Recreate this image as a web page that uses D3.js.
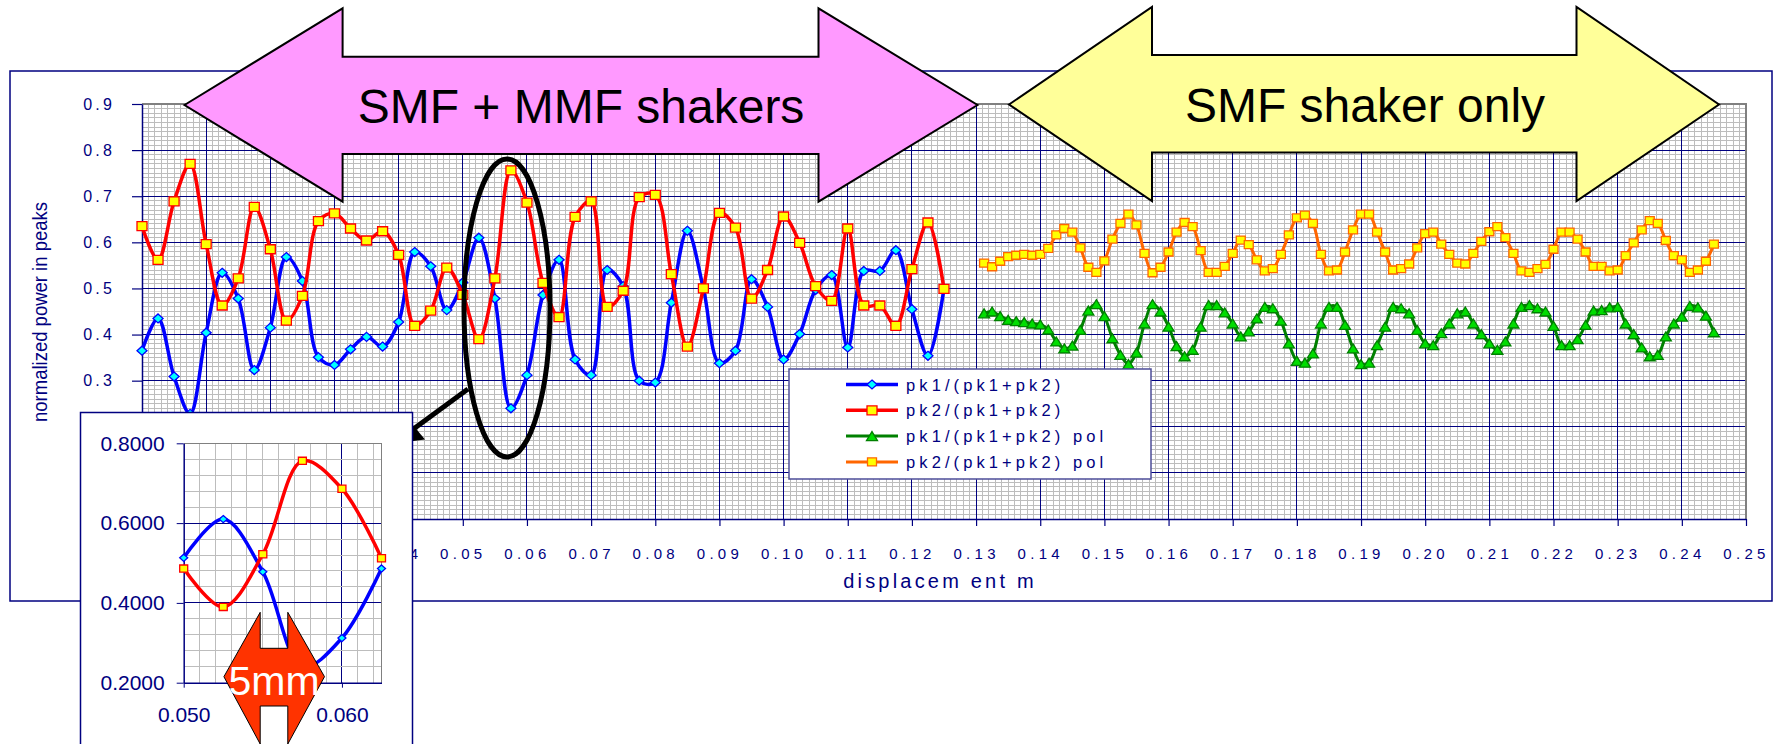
<!DOCTYPE html>
<html>
<head>
<meta charset="utf-8">
<script src="https://cdn.jsdelivr.net/npm/d3@7"></script>
<style>
  body { margin: 0; background: #fff; }
  svg { display: block; }
  .narrow { font-family: "Liberation Sans", Arial, sans-serif; fill: #000080; }
  .plain { font-family: "Liberation Sans", Arial, sans-serif; }
</style>
</head>
<body>
<svg width="1774" height="744"></svg>
<script>
var svg = d3.select("svg");
var navy = "#000080";

// ---- data ----
// displacement in mm, first run (both shakers), 2.5 mm steps
var dispMm = [0, 2.5, 5, 7.5, 10, 12.5, 15, 17.5, 20, 22.5, 25, 27.5, 30, 32.5, 35, 37.5, 40, 42.5, 45, 47.5,
  50, 52.5, 55, 57.5, 60, 62.5, 65, 67.5, 70, 72.5, 75, 77.5, 80, 82.5, 85, 87.5, 90, 92.5, 95, 97.5,
  100, 102.5, 105, 107.5, 110, 112.5, 115, 117.5, 120, 122.5, 125];
var pk1 = [0.365, 0.435, 0.309, 0.228, 0.404, 0.534, 0.478, 0.323, 0.415, 0.568, 0.516, 0.351, 0.334, 0.368, 0.395,
  0.374, 0.427, 0.579, 0.548, 0.453, 0.513, 0.610, 0.478, 0.240, 0.312, 0.486, 0.562, 0.346, 0.312, 0.540,
  0.505, 0.300, 0.296, 0.469, 0.625, 0.500, 0.338, 0.365, 0.520, 0.460, 0.346, 0.401, 0.497, 0.529, 0.372,
  0.538, 0.538, 0.583, 0.455, 0.354, 0.500];
var pk2 = [0.635, 0.562, 0.689, 0.770, 0.596, 0.463, 0.522, 0.677, 0.585, 0.430, 0.484, 0.646, 0.663, 0.630, 0.604,
  0.624, 0.573, 0.419, 0.452, 0.545, 0.486, 0.390, 0.522, 0.756, 0.686, 0.512, 0.438, 0.655, 0.689, 0.460,
  0.495, 0.698, 0.703, 0.531, 0.374, 0.500, 0.664, 0.632, 0.478, 0.540, 0.656, 0.599, 0.505, 0.473, 0.630,
  0.463, 0.463, 0.419, 0.542, 0.643, 0.499];

// second run (SMF shaker only), 1.25 mm steps
var dispPolMm = [131.25, 132.5, 133.75, 135, 136.25, 137.5, 138.75, 140, 141.25, 142.5, 143.75, 145, 146.25, 147.5,
  148.75, 150, 151.25, 152.5, 153.75, 155, 156.25, 157.5, 158.75, 160, 161.25, 162.5, 163.75, 165, 166.25,
  167.5, 168.75, 170, 171.25, 172.5, 173.75, 175, 176.25, 177.5, 178.75, 180, 181.25, 182.5, 183.75, 185,
  186.25, 187.5, 188.75, 190, 191.25, 192.5, 193.75, 195, 196.25, 197.5, 198.75, 200, 201.25, 202.5, 203.75,
  205, 206.25, 207.5, 208.75, 210, 211.25, 212.5, 213.75, 215, 216.25, 217.5, 218.75, 220, 221.25, 222.5,
  223.75, 225, 226.25, 227.5, 228.75, 230, 231.25, 232.5, 233.75, 235, 236.25, 237.5, 238.75, 240, 241.25,
  242.5, 243.75, 245];
var pk1Pol = [0.446, 0.450, 0.440, 0.432, 0.429, 0.427, 0.424, 0.422, 0.411, 0.385, 0.370, 0.376, 0.410, 0.452, 0.466,
  0.440, 0.392, 0.356, 0.336, 0.361, 0.424, 0.466, 0.450, 0.417, 0.375, 0.353, 0.367, 0.417, 0.464, 0.464,
  0.448, 0.424, 0.396, 0.407, 0.435, 0.460, 0.457, 0.430, 0.381, 0.343, 0.339, 0.359, 0.424, 0.460, 0.460,
  0.421, 0.370, 0.336, 0.339, 0.377, 0.417, 0.460, 0.457, 0.446, 0.410, 0.381, 0.377, 0.403, 0.424, 0.446,
  0.450, 0.424, 0.401, 0.381, 0.367, 0.385, 0.424, 0.460, 0.464, 0.457, 0.450, 0.419, 0.377, 0.377, 0.390,
  0.421, 0.452, 0.453, 0.459, 0.460, 0.424, 0.401, 0.372, 0.353, 0.356, 0.396, 0.424, 0.439, 0.462, 0.459,
  0.441, 0.405];
var pk2Pol = [0.555, 0.547, 0.559, 0.569, 0.572, 0.574, 0.572, 0.574, 0.587, 0.616, 0.630, 0.622, 0.588, 0.546, 0.535,
  0.560, 0.607, 0.641, 0.661, 0.638, 0.576, 0.534, 0.546, 0.579, 0.622, 0.643, 0.634, 0.582, 0.535, 0.535,
  0.548, 0.576, 0.605, 0.595, 0.562, 0.538, 0.543, 0.574, 0.616, 0.653, 0.659, 0.641, 0.574, 0.538, 0.540,
  0.579, 0.627, 0.661, 0.661, 0.622, 0.579, 0.540, 0.543, 0.553, 0.588, 0.619, 0.622, 0.596, 0.574, 0.555,
  0.553, 0.576, 0.602, 0.623, 0.634, 0.610, 0.576, 0.538, 0.535, 0.543, 0.552, 0.585, 0.622, 0.622, 0.607,
  0.579, 0.548, 0.548, 0.538, 0.540, 0.571, 0.599, 0.627, 0.647, 0.641, 0.604, 0.571, 0.562, 0.535, 0.540,
  0.559, 0.596];

var seriesNames = ["pk1/(pk1+pk2)", "pk2/(pk1+pk2)", "pk1/(pk1+pk2) pol", "pk2/(pk1+pk2) pol"];
// tick positions; the labels under the inset are not shown in the original
var xTickVals = [0, 0.01, 0.02, 0.03, 0.04, 0.05, 0.06, 0.07, 0.08, 0.09, 0.10, 0.11, 0.12, 0.13,
  0.14, 0.15, 0.16, 0.17, 0.18, 0.19, 0.20, 0.21, 0.22, 0.23, 0.24, 0.25];
var xLabelVals = [0.04, 0.05, 0.06, 0.07, 0.08, 0.09, 0.10, 0.11, 0.12, 0.13,
  0.14, 0.15, 0.16, 0.17, 0.18, 0.19, 0.20, 0.21, 0.22, 0.23, 0.24, 0.25];
var yTickVals = [0, 0.1, 0.2, 0.3, 0.4, 0.5, 0.6, 0.7, 0.8, 0.9];
var yLabelVals = [0.3, 0.4, 0.5, 0.6, 0.7, 0.8, 0.9];
var insetXTicks = [0.050, 0.060];
var insetYTicks = [0.2, 0.4, 0.6, 0.8];

// ---- styles ----
var styles = [
  { line: "#0000ff", width: 3.5, shape: "diamond", w: 10, h: 9, fill: "#00ffff", stroke: "#0000ff" },
  { line: "#ff0000", width: 3.5, shape: "square", w: 10, h: 9, fill: "#ffff00", stroke: "#ff0000" },
  { line: "#008000", width: 3, shape: "triangle", w: 11, h: 9, fill: "#00dd00", stroke: "#008000" },
  { line: "#ff6600", width: 3, shape: "square", w: 9, h: 8, fill: "#ffff00", stroke: "#ff6600" }
];

function markerPath(s, w, h) {
  if (s === "diamond") return "M0," + (-h / 2) + "L" + (w / 2) + ",0L0," + (h / 2) + "L" + (-w / 2) + ",0Z";
  if (s === "triangle") return "M0," + (-h / 2) + "L" + (w / 2) + "," + (h / 2) + "L" + (-w / 2) + "," + (h / 2) + "Z";
  return "M" + (-w / 2) + "," + (-h / 2) + "h" + w + "v" + h + "h" + (-w) + "Z";
}

function drawSeries(g, pts, sx, sy, st, scale) {
  var line = d3.line()
    .x(function (d) { return sx(d.x); })
    .y(function (d) { return sy(d.y); })
    .curve(d3.curveCatmullRom.alpha(0.5));
  g.append("path")
    .datum(pts)
    .attr("fill", "none")
    .attr("stroke", st.line)
    .attr("stroke-width", st.width)
    .attr("stroke-linejoin", "round")
    .attr("d", line);
  g.selectAll(null)
    .data(pts)
    .enter().append("path")
    .attr("transform", function (d) { return "translate(" + sx(d.x) + "," + sy(d.y) + ")"; })
    .attr("d", markerPath(st.shape, st.w * scale, st.h * scale))
    .attr("fill", st.fill)
    .attr("stroke", st.stroke)
    .attr("stroke-width", 1.3);
}

function zip(xsMm, ys) {
  return ys.map(function (v, i) { return { x: xsMm[i] / 1000, y: v }; });
}

var series = [zip(dispMm, pk1), zip(dispMm, pk2), zip(dispPolMm, pk1Pol), zip(dispPolMm, pk2Pol)];

// ---- main chart ----
var x = d3.scaleLinear().domain([0, 0.25]).range([142, 1746]);
var y = d3.scaleLinear().domain([0, 0.9]).range([519, 104]);

svg.append("rect")
  .attr("x", 10).attr("y", 71).attr("width", 1762).attr("height", 530)
  .attr("fill", "#fff").attr("stroke", navy).attr("stroke-width", 1.5);

var grid = svg.append("g").attr("shape-rendering", "crispEdges");
grid.selectAll(".mx").data(d3.range(1, 250)).enter().append("line")
  .attr("x1", function (d) { return x(d / 1000); }).attr("x2", function (d) { return x(d / 1000); })
  .attr("y1", y(0.9)).attr("y2", y(0))
  .attr("stroke", "#bdbdbd");
grid.selectAll(".my").data(d3.range(1, 90)).enter().append("line")
  .attr("y1", function (d) { return y(d / 100); }).attr("y2", function (d) { return y(d / 100); })
  .attr("x1", x(0)).attr("x2", x(0.25))
  .attr("stroke", "#bdbdbd");
grid.selectAll(".gx").data(xTickVals.slice(1, -1)).enter().append("line")
  .attr("x1", function (d) { return x(d); }).attr("x2", function (d) { return x(d); })
  .attr("y1", y(0.9)).attr("y2", y(0))
  .attr("stroke", navy);
grid.selectAll(".gy").data(yTickVals.slice(1, -1)).enter().append("line")
  .attr("y1", function (d) { return y(d); }).attr("y2", function (d) { return y(d); })
  .attr("x1", x(0)).attr("x2", x(0.25))
  .attr("stroke", navy);
grid.append("path")
  .attr("d", "M" + x(0) + "," + y(0.9) + "H" + x(0.25) + "V" + y(0))
  .attr("fill", "none").attr("stroke", "#808080").attr("stroke-width", 2);

function styleAxis(g, ls, size, shown) {
  g.select(".domain").attr("stroke", navy).attr("stroke-width", 1.5);
  g.selectAll(".tick line").attr("stroke", navy).attr("stroke-width", 1.2);
  g.selectAll(".tick text")
    .attr("class", "narrow")
    .attr("fill", navy)
    .style("font-size", size + "px")
    .attr("letter-spacing", ls)
    .filter(function (d) { return shown.indexOf(d) < 0; })
    .remove();
}

var xAxis = svg.append("g")
  .attr("transform", "translate(0," + y(0) + ")")
  .call(d3.axisBottom(x).tickValues(xTickVals).tickFormat(d3.format(".2f"))
    .tickSize(7).tickSizeOuter(0).tickPadding(22));
styleAxis(xAxis, 4.3, 15, xLabelVals);

var yAxis = svg.append("g")
  .attr("transform", "translate(" + x(0) + ",0)")
  .call(d3.axisLeft(y).tickValues(yTickVals).tickFormat(d3.format(".1f"))
    .tickSize(10).tickSizeOuter(0).tickPadding(17));
styleAxis(yAxis, 3.2, 16, yLabelVals);

svg.append("text")
  .attr("class", "narrow")
  .attr("x", 940).attr("y", 588)
  .attr("text-anchor", "middle")
  .attr("letter-spacing", 3.2)
  .style("font-size", "20px")
  .text("displacem ent m");

svg.append("text")
  .attr("class", "plain")
  .attr("transform", "translate(47,312) rotate(-90)")
  .attr("text-anchor", "middle")
  .attr("fill", navy)
  .attr("textLength", 220)
  .attr("lengthAdjust", "spacingAndGlyphs")
  .style("font-size", "20px")
  .text("normalized power in peaks");

var plot = svg.append("g");
series.forEach(function (pts, i) { drawSeries(plot, pts, x, y, styles[i], 1); });

// legend
var legend = svg.append("g");
legend.append("rect")
  .attr("x", 789).attr("y", 369).attr("width", 362).attr("height", 110)
  .attr("fill", "#fff").attr("stroke", "#4d4d99").attr("stroke-width", 1.5);
var rows = legend.selectAll(".row").data(seriesNames).enter().append("g")
  .attr("transform", function (d, i) { return "translate(0," + (384.5 + i * 25.8) + ")"; });
rows.append("line")
  .attr("x1", 846).attr("x2", 898)
  .attr("stroke", function (d, i) { return styles[i].line; })
  .attr("stroke-width", function (d, i) { return styles[i].width; });
rows.append("path")
  .attr("transform", "translate(872,0)")
  .attr("d", function (d, i) { return markerPath(styles[i].shape, styles[i].w, styles[i].h); })
  .attr("fill", function (d, i) { return styles[i].fill; })
  .attr("stroke", function (d, i) { return styles[i].stroke; })
  .attr("stroke-width", 1.3);
rows.append("text")
  .attr("class", "narrow")
  .attr("x", 906).attr("y", 6)
  .attr("letter-spacing", 4.1)
  .style("font-size", "16.5px")
  .text(function (d) { return d; });

// ---- annotations ----
var ann = svg.append("g");
ann.append("polygon")
  .attr("points", "184.5,105 342.6,8.3 342.6,56.7 818.5,56.7 818.5,8.3 977.5,105 818.5,201.7 818.5,154 342.6,154 342.6,201.7")
  .attr("fill", "#ff99ff").attr("stroke", "#000").attr("stroke-width", 2);
ann.append("text")
  .attr("class", "plain")
  .attr("x", 581).attr("y", 122.7)
  .attr("text-anchor", "middle")
  .style("font-size", "48px")
  .text("SMF + MMF shakers");
ann.append("polygon")
  .attr("points", "1009,104.5 1152,7 1152,55 1576.5,55 1576.5,7 1719,104.5 1576.5,201 1576.5,152.5 1152,152.5 1152,201")
  .attr("fill", "#ffff99").attr("stroke", "#000").attr("stroke-width", 2);
ann.append("text")
  .attr("class", "plain")
  .attr("x", 1365).attr("y", 121.7)
  .attr("text-anchor", "middle")
  .style("font-size", "48px")
  .text("SMF shaker only");

ann.append("ellipse")
  .attr("cx", 507).attr("cy", 308).attr("rx", 43).attr("ry", 149)
  .attr("fill", "none").attr("stroke", "#000").attr("stroke-width", 5);
ann.append("line")
  .attr("x1", 468).attr("y1", 389).attr("x2", 408).attr("y2", 433)
  .attr("stroke", "#000").attr("stroke-width", 5);
ann.append("polygon")
  .attr("points", "394,443.5 407,418 425,439.5")
  .attr("fill", "#000");

// ---- inset ----
var inset = svg.append("g");
inset.append("rect")
  .attr("x", 80.5).attr("y", 412.5).attr("width", 332).attr("height", 345)
  .attr("fill", "#fff").attr("stroke", navy).attr("stroke-width", 1.5);

var xi = d3.scaleLinear().domain([0.05, 0.0625]).range([183.7, 381.5]);
var yi = d3.scaleLinear().domain([0.2, 0.8]).range([682.7, 443.3]);

var ig = inset.append("g").attr("shape-rendering", "crispEdges");
ig.selectAll(".ix").data(d3.range(51, 63)).enter().append("line")
  .attr("x1", function (d) { return xi(d / 1000); }).attr("x2", function (d) { return xi(d / 1000); })
  .attr("y1", yi(0.8)).attr("y2", yi(0.2))
  .attr("stroke", function (d) { return d === 60 ? navy : "#bdbdbd"; });
ig.selectAll(".iy").data(d3.range(6, 20)).enter().append("line")
  .attr("y1", function (d) { return yi(d / 25); }).attr("y2", function (d) { return yi(d / 25); })
  .attr("x1", xi(0.05)).attr("x2", xi(0.0625))
  .attr("stroke", function (d) { return (d === 10 || d === 15) ? navy : "#bdbdbd"; });
ig.append("path")
  .attr("d", "M" + xi(0.05) + "," + yi(0.8) + "H" + xi(0.0625) + "V" + yi(0.2))
  .attr("fill", "none").attr("stroke", "#808080").attr("stroke-width", 1.5);

var ixAxis = inset.append("g")
  .attr("transform", "translate(0," + yi(0.2) + ")")
  .call(d3.axisBottom(xi).tickValues(insetXTicks).tickFormat(d3.format(".3f"))
    .tickSize(5).tickSizeOuter(0).tickPadding(19));
var iyAxis = inset.append("g")
  .attr("transform", "translate(" + xi(0.05) + ",0)")
  .call(d3.axisLeft(yi).tickValues(insetYTicks).tickFormat(d3.format(".4f"))
    .tickSize(7).tickSizeOuter(0).tickPadding(12));
[ixAxis, iyAxis].forEach(function (g) {
  g.select(".domain").attr("stroke", navy).attr("stroke-width", 1.5);
  g.selectAll(".tick line").attr("stroke", navy);
  g.selectAll(".tick text")
    .attr("class", "plain")
    .attr("fill", navy)
    .style("font-size", "21px");
});

[0, 1].forEach(function (i) {
  var pts = series[i].filter(function (d) { return d.x >= 0.05 - 1e-9 && d.x <= 0.0625 + 1e-9; });
  drawSeries(inset, pts, xi, yi, styles[i], 0.8);
});

// 5 mm marker
inset.append("polygon")
  .attr("points", "260.2,612.3 260.2,648.3 287.8,648.3 287.8,612.3 324.5,676.7 287.8,744 287.8,706 260.2,706 260.2,744 223.9,676.7")
  .attr("fill", "#ff3300").attr("stroke", "#000").attr("stroke-width", 1);
inset.append("text")
  .attr("class", "plain")
  .attr("x", 274).attr("y", 695)
  .attr("text-anchor", "middle")
  .attr("fill", "#fff")
  .style("font-size", "41px")
  .text("5mm");
</script>
</body>
</html>
